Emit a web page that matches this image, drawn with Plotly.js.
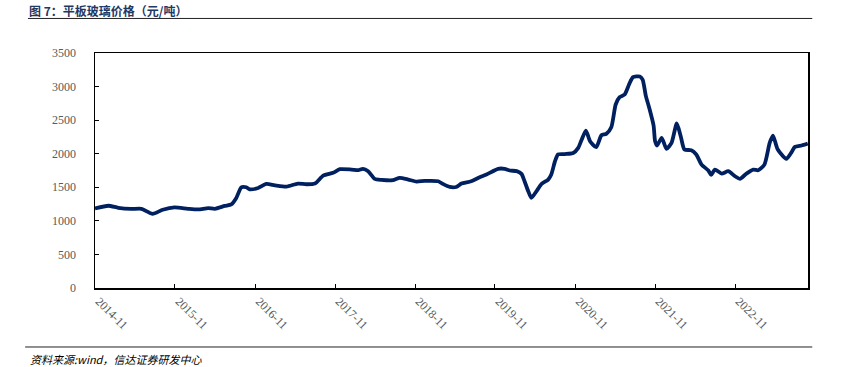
<!DOCTYPE html>
<html>
<head>
<meta charset="utf-8">
<script src="https://cdn.plot.ly/plotly-3.0.1.min.js"></script>
<style>html,body{margin:0;padding:0;background:#fff;}#chart{width:850px;height:367px;}</style>
</head>
<body>
<div id="chart"></div>
<script>
const dates = [
"2014-11-01","2015-01-01","2015-02-15","2015-04-15","2015-06-01","2015-07-22","2015-09-06","2015-10-30",
"2015-12-30","2016-02-15","2016-04-01","2016-05-01","2016-06-15","2016-07-15","2016-08-07","2016-08-30",
"2016-09-22","2016-10-07","2016-11-15","2016-12-22","2017-01-30","2017-03-24","2017-05-15","2017-06-23",
"2017-08-01","2017-09-08","2017-10-23","2017-11-23","2018-01-15","2018-02-15","2018-03-08","2018-04-01",
"2018-05-01","2018-06-01","2018-07-23","2018-08-23","2018-10-01","2018-11-08","2018-12-15","2019-02-15",
"2019-03-08","2019-04-08","2019-05-08","2019-06-01","2019-07-15","2019-08-23","2019-09-23","2019-11-15",
"2019-12-15","2020-01-08","2020-02-08","2020-03-01","2020-03-15","2020-04-01","2020-04-15","2020-05-08",
"2020-06-01","2020-07-01","2020-07-15","2020-08-01","2020-08-15","2020-09-15","2020-10-23","2020-11-15",
"2020-12-01","2020-12-20","2021-01-08","2021-02-05","2021-03-01","2021-03-23","2021-04-15","2021-05-05",
"2021-05-23","2021-06-15","2021-07-05","2021-07-23","2021-08-23","2021-09-05","2021-09-20","2021-10-05",
"2021-10-25","2021-11-01","2021-11-10","2021-12-01","2021-12-23","2022-01-15","2022-02-08","2022-02-26",
"2022-03-15","2022-04-15","2022-05-08","2022-06-01","2022-07-01","2022-07-15","2022-08-01","2022-09-01",
"2022-10-01","2022-11-01","2022-11-23","2022-12-23","2023-01-23","2023-02-15","2023-03-15","2023-04-08",
"2023-04-23","2023-05-15","2023-06-23","2023-07-15","2023-08-01","2023-09-01","2023-09-29"
];
const prices = [
1185,1225,1195,1178,1180,1105,1165,1200,
1180,1170,1190,1180,1222,1245,1342,1500,
1500,1470,1490,1550,1530,1510,1555,1545,
1555,1674,1715,1770,1764,1755,1775,1739,
1625,1610,1605,1640,1615,1585,1595,1590,
1550,1505,1505,1555,1590,1650,1690,1775,
1775,1750,1740,1700,1590,1440,1342,1440,
1550,1615,1690,1888,1990,1995,2010,2087,
2211,2345,2186,2097,2275,2296,2395,2733,
2842,2882,3031,3140,3150,3105,2857,2684,
2420,2186,2122,2236,2072,2162,2450,2260,
2062,2052,1988,1838,1754,1685,1764,1704,
1739,1664,1625,1704,1764,1754,1838,2162,
2270,2062,1923,2013,2102,2122,2150
];
const tickDates = ["2014-11-01","2015-11-01","2016-11-01","2017-11-01","2018-11-01","2019-11-01","2020-11-01","2021-11-01","2022-11-01"];
const tickLabels = ["2014-11","2015-11","2016-11","2017-11","2018-11","2019-11","2020-11","2021-11","2022-11"];
const yTicks = [0,500,1000,1500,2000,2500,3000,3500];
const titleText = "图 7：平板玻璃价格（元/吨）";
const sourceText = "资料来源:wind，信达证券研发中心";

const trace = {
  x: dates, y: prices, type: "scatter", mode: "lines",
  line: {color: "#002060", width: 3.8, shape: "spline", smoothing: 0.6},
  hoverinfo: "x+y"
};
const tickFont = {family: "Liberation Serif, Times New Roman, serif", size: 12, color: "#595959"};
const layout = {
  width: 850, height: 367,
  margin: {l: 95, r: 42, t: 53, b: 79},
  paper_bgcolor: "#fff", plot_bgcolor: "#fff",
  showlegend: false,
  xaxis: {
    type: "date", range: ["2014-11-01", "2023-09-30"],
    tickvals: tickDates, ticktext: tickLabels, tickangle: 45,
    ticks: "inside", ticklen: 4, tickwidth: 1, tickcolor: "#000",
    showline: true, linecolor: "#000", linewidth: 1.5, mirror: true,
    showgrid: false, zeroline: false, tickfont: tickFont, ticklabelshift: 4
  },
  yaxis: {
    range: [0, 3500], tickvals: yTicks,
    ticks: "inside", ticklen: 4, tickwidth: 1, tickcolor: "#000",
    showline: true, linecolor: "#000", linewidth: 1.5, mirror: true,
    showgrid: false, zeroline: false, tickfont: tickFont, ticklabelstandoff: 15
  },
  shapes: [
    {type: "line", xref: "paper", yref: "paper", x0: -0.094, x1: 1.006, y0: 1.147, y1: 1.147, line: {color: "#222", width: 1}},
    {type: "line", xref: "paper", yref: "paper", x0: -0.098, x1: 1.006, y0: -0.251, y1: -0.251, line: {color: "#222", width: 1}}
  ],
  annotations: [
    {text: "<b>" + titleText + "</b>", xref: "paper", yref: "paper", x: -0.094, y: 1.181, xanchor: "left", yanchor: "middle", showarrow: false,
     borderpad: 0, font: {family: "Noto Sans CJK SC", size: 12, color: "#1F3864"}},
    {text: "<i>" + sourceText + "</i>", xref: "paper", yref: "paper", x: -0.094, y: -0.258, xanchor: "left", yanchor: "top", showarrow: false,
     font: {family: "Noto Sans CJK SC, Liberation Sans", size: 11, color: "#000"}}
  ]
};
Plotly.newPlot("chart", [trace], layout, {displayModeBar: false, staticPlot: true});
</script>
</body>
</html>
